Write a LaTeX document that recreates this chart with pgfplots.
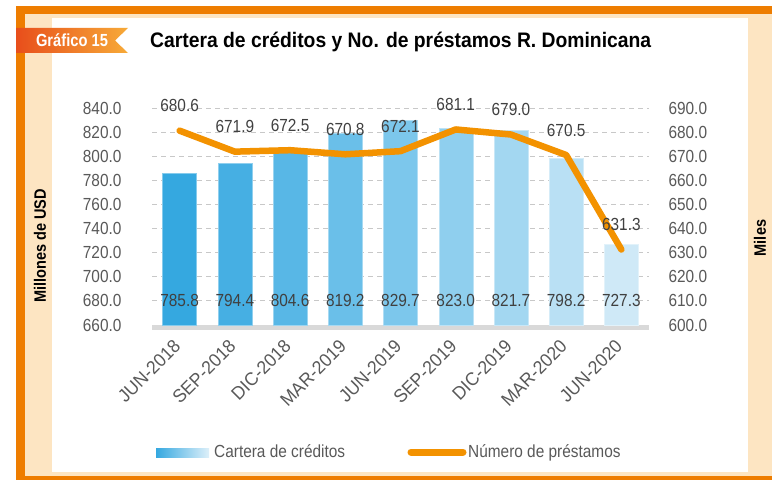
\documentclass[border=0pt]{standalone}
\usepackage{fontspec}
\setmainfont{Liberation Sans}
\newfontfamily\nf{Liberation Sans}[FakeStretch=0.88]
\newfontfamily\xf{Liberation Sans}[FakeStretch=0.95]
\newfontfamily\tf{Liberation Sans}[FakeStretch=0.92]
\newfontfamily\badgef{Liberation Sans}[FakeStretch=0.84]
\usepackage{pgfplots}
\usepackage{pgfplotstable}
\pgfplotsset{compat=1.18}
\definecolor{frameor}{HTML}{EE7D00}
\definecolor{beige}{HTML}{FDE5C2}
\definecolor{lineor}{HTML}{F39200}
\definecolor{badgeL}{HTML}{E84E1B}
\definecolor{badgeR}{HTML}{F7AA38}
\definecolor{tickgray}{HTML}{595959}
\definecolor{labgray}{HTML}{404040}
\definecolor{gridgray}{HTML}{C8C8C8}
\definecolor{basegray}{HTML}{D9D9D9}
\definecolor{b0}{RGB}{53,168,224}
\definecolor{b1}{RGB}{70,175,227}
\definecolor{b2}{RGB}{88,183,230}
\definecolor{b3}{RGB}{106,191,233}
\definecolor{b4}{RGB}{124,199,236}
\definecolor{b5}{RGB}{143,207,238}
\definecolor{b6}{RGB}{163,215,241}
\definecolor{b7}{RGB}{185,224,244}
\definecolor{b8}{RGB}{207,233,247}
\pgfplotstableread{
x cartera prestamos
0 785.8 680.6
1 794.4 671.9
2 804.6 672.5
3 819.2 670.8
4 829.7 672.1
5 823.0 681.1
6 821.7 679.0
7 798.2 670.5
8 727.3 631.3
}\data
\pgfplotsset{/pgf/number format/assume math mode=true}
\begin{document}
\begin{tikzpicture}[x=1pt,y=1pt]
\useasboundingbox (0,0) rectangle (772,480);
\fill[white] (0,0) rectangle (772,480);
% frame
\fill[beige] (25,0) rectangle (52,466);
\fill[beige] (25,462) rectangle (772,466);
\fill[beige] (748,0) rectangle (772,466);
\fill[beige] (16,4) rectangle (772,8);
\fill[frameor] (16,466) rectangle (772,474);
\fill[frameor] (16,0) rectangle (25,474);
\fill[frameor] (16,0) rectangle (772,4);
% badge
\shade[left color=badgeL, right color=badgeR] (16,452) -- (128,452) -- (115,439.5) -- (128,427) -- (16,427) -- cycle;
\node[anchor=base, inner sep=0, text=white, font=\badgef\bfseries\fontsize{17.5}{18}\selectfont] at (72,433) {Gráfico 15};
% title
\node[anchor=base west, inner sep=0, font=\tf\bfseries\fontsize{21}{22}\selectfont] at (150,432) {Cartera de créditos y No. de préstamos R. Dominicana};
% axis titles
\node[rotate=90, inner sep=0, font=\nf\bfseries\fontsize{16.5}{17}\selectfont] at (40,234) {Millones de USD};
\node[rotate=90, inner sep=0, font=\nf\bfseries\fontsize{16.5}{17}\selectfont] at (760,242) {Miles};

\begin{axis}[at={(152pt,155pt)}, anchor=south west, scale only axis,
  width=497pt, height=217pt,
  xmin=-0.5, xmax=8.5, ymin=660, ymax=840,
  ytick={660,680,...,840}, xtick={0,...,8},
  xticklabels={JUN-2018,SEP-2018,DIC-2018,MAR-2019,JUN-2019,SEP-2019,DIC-2019,MAR-2020,JUN-2020},
  axis y line*=left, axis x line*=bottom,
  y axis line style={draw=none},
  x axis line style={draw=basegray, line width=5pt, yshift=-2.5pt, -},
  major tick length=0pt,
  ymajorgrids, grid style={dash pattern=on 5pt off 4pt, draw=gridgray, line width=0.8pt},
  xticklabel style={font=\xf\fontsize{18.5}{19}\selectfont, text=tickgray, xshift=0pt, yshift=-16pt, rotate=45, anchor=east},
  yticklabel style={font=\nf\fontsize{17.5}{18}\selectfont, text=tickgray, xshift=-27pt,
     /pgf/number format/.cd, fixed, fixed zerofill, precision=1},
]
\addplot[ybar, bar shift=0pt, bar width=34pt, fill=b0, draw=b0!60!white] coordinates {(0,785.8)};
\addplot[ybar, bar shift=0pt, bar width=34pt, fill=b1, draw=b1!60!white] coordinates {(1,794.4)};
\addplot[ybar, bar shift=0pt, bar width=34pt, fill=b2, draw=b2!60!white] coordinates {(2,804.6)};
\addplot[ybar, bar shift=0pt, bar width=34pt, fill=b3, draw=b3!60!white] coordinates {(3,819.2)};
\addplot[ybar, bar shift=0pt, bar width=34pt, fill=b4, draw=b4!60!white] coordinates {(4,829.7)};
\addplot[ybar, bar shift=0pt, bar width=34pt, fill=b5, draw=b5!60!white] coordinates {(5,823.0)};
\addplot[ybar, bar shift=0pt, bar width=34pt, fill=b6, draw=b6!60!white] coordinates {(6,821.7)};
\addplot[ybar, bar shift=0pt, bar width=34pt, fill=b7, draw=b7!60!white] coordinates {(7,798.2)};
\addplot[ybar, bar shift=0pt, bar width=34pt, fill=b8, draw=b8!60!white] coordinates {(8,727.3)};
\addplot[draw=none, mark=none, point meta={\thisrow{cartera}},
  nodes near coords={\pgfmathprintnumber[fixed,fixed zerofill,precision=1]{\pgfplotspointmeta}},
  every node near coord/.append style={anchor=center, text=labgray, font=\nf\fontsize{17.5}{18}\selectfont}]
  table[x=x, y expr=680] {\data};
\end{axis}

\begin{axis}[at={(152pt,155pt)}, anchor=south west, scale only axis,
  width=497pt, height=217pt,
  xmin=-0.5, xmax=8.5, ymin=600, ymax=690,
  ytick={600,610,...,690},
  axis y line*=right, axis x line=none,
  y axis line style={draw=none},
  major tick length=0pt, clip=false,
  yticklabel style={font=\nf\fontsize{17.5}{18}\selectfont, text=tickgray, xshift=16pt,
     /pgf/number format/.cd, fixed, fixed zerofill, precision=1},
]
\addplot[lineor, mark=none, line width=6.5pt, line cap=round, line join=round, point meta=y,
  nodes near coords={\pgfmathprintnumber[fixed,fixed zerofill,precision=1]{\pgfplotspointmeta}},
  every node near coord/.append style={anchor=south, yshift=12pt, text=labgray, font=\nf\fontsize{17.5}{18}\selectfont}]
  table[x=x, y=prestamos] {\data};
\end{axis}

% legend
\shade[left color=b0, right color=b8!70!white] (156,23) rectangle (209,32);
\node[anchor=base west, inner sep=0, text=tickgray, font=\nf\fontsize{17.5}{18}\selectfont] at (214,22.5) {Cartera de créditos};
\draw[lineor, line width=7pt, line cap=round] (411,28) -- (463,28);
\node[anchor=base west, inner sep=0, text=tickgray, font=\nf\fontsize{17.5}{18}\selectfont] at (468,22.5) {Número de préstamos};
\end{tikzpicture}
\end{document}
